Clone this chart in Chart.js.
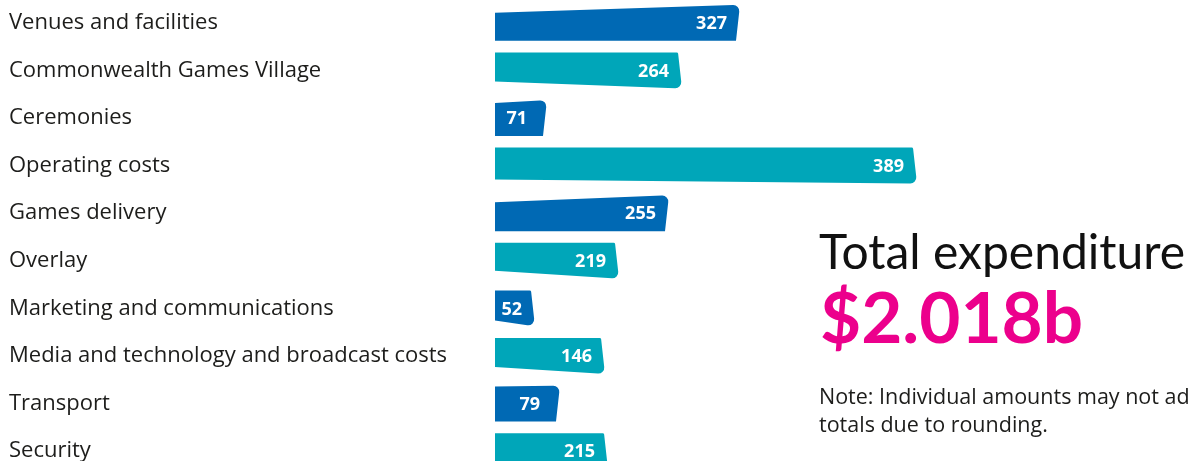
<!DOCTYPE html>
<html>
<head>
<meta charset="utf-8">
<script src="https://cdn.jsdelivr.net/npm/chart.js@4"></script>
<style>
  html, body { margin: 0; padding: 0; background: #fff; width: 1189px; height: 461px; overflow: hidden; }
  #wrap { position: relative; width: 1189px; height: 461px; overflow: hidden; }
  #chart { position: absolute; left: 0; top: -1px; }
  .side { position: absolute; left: 819px; white-space: nowrap; }
  #total-title { top: 227px; font-family: Lato, sans-serif; font-size: 48px; line-height: 48px; color: #111; }
  #total-value { top: 281px; left: 820px; font-family: Lato, sans-serif; font-size: 71px; line-height: 70px; font-weight: 700; color: #ec008c; }
  #total-note  { top: 382px; font-family: "Open Sans", sans-serif; font-size: 21.5px; line-height: 28px; color: #1d1d1b; }
</style>
</head>
<body>
<div id="wrap">
  <canvas id="chart" width="1189" height="476"></canvas>
  <div class="side" id="total-title">Total expenditure</div>
  <div class="side" id="total-value">$2.018b</div>
  <div class="side" id="total-note">Note: Individual amounts may not add up to<br>totals due to rounding.</div>
</div>

<script>
/* Expenditure by category ($m) — hand-drawn style bars */

const categories = [
  'Venues and facilities',
  'Commonwealth Games Village',
  'Ceremonies',
  'Operating costs',
  'Games delivery',
  'Overlay',
  'Marketing and communications',
  'Media and technology and broadcast costs',
  'Transport',
  'Security'
];

// printed amounts ($m)
const amounts = [327, 264, 71, 389, 255, 219, 52, 146, 79, 215];

// the original graphic is not drawn to scale: bar lengths as they appear
const barLengths = [245, 187, 52, 422, 174, 124, 40, 110, 65, 113];

const BLUE = '#0069b4';
const TEAL = '#00a6b9';
const barColors = categories.map((c, i) => i % 2 === 0 ? BLUE : TEAL);

// tip shape of each bar: 'up' = rounded top-right, 'down' = rounded bottom-right
const tipShapes = ['up', 'down', 'up', 'down', 'up', 'down', 'down', 'down', 'up', 'down'];
const tipSlants = [8, 7, 3, 4, 7, 8, 6, 7, 1, 6];

const slantedBars = {
  id: 'slantedBars',
  beforeDatasetDraw(chart, args) {
    const ctx  = chart.ctx;
    const meta = args.meta;
    ctx.save();
    meta.data.forEach((el, i) => {
      const { x, y, base, height } = el.getProps(['x', 'y', 'base', 'height'], true);
      const L = base, R = x;
      const T = y - height / 2, B = y + height / 2;
      const s = tipSlants[i];
      const k = 4;   // lean of the right edge
      const r = 6;   // tip radius

      ctx.beginPath();
      if (tipShapes[i] === 'up') {
        ctx.moveTo(L, B);
        ctx.lineTo(L, T + s);
        ctx.arcTo(R, T, R - k, B, r);
        ctx.lineTo(R - k, B);
      } else {
        ctx.moveTo(L, T);
        ctx.arcTo(R - k, T, R, B, 1.5);
        ctx.arcTo(R, B, L, B - s, r);
        ctx.lineTo(L, B - s);
      }
      ctx.closePath();
      ctx.fillStyle = barColors[i];
      ctx.fill();

      ctx.fillStyle    = '#ffffff';
      ctx.font         = 'bold 18px "Open Sans", sans-serif';
      ctx.textAlign    = 'right';
      ctx.textBaseline = 'middle';
      const pad = amounts[i] < 100 && barLengths[i] > 50 ? 20 : 13;
      ctx.fillText(String(amounts[i]), R - pad, y + 1);
    });
    ctx.restore();
    return false;
  }
};

new Chart(document.getElementById('chart'), {
  type: 'bar',
  data: {
    labels: categories,
    datasets: [{
      data:            barLengths,
      backgroundColor: barColors,
      barThickness:    36
    }]
  },
  options: {
    indexAxis:  'y',
    responsive: false,
    animation:  false,
    events:     [],
    layout: { padding: { left: 9, right: 0, top: 0, bottom: 0 } },
    plugins: {
      legend:  { display: false },
      tooltip: { enabled: false }
    },
    scales: {
      x: { display: false, min: 0, max: 694 },
      y: {
        grid:   { display: false },
        border: { display: false },
        ticks: {
          color:      '#1d1d1b',
          font:       { family: 'Open Sans', size: 22 },
          crossAlign: 'far',
          padding:    0
        },
        afterFit(scale) {
          scale.width = 486;
          scale.paddingTop = 0;
          scale.paddingBottom = 0;
        }
      }
    }
  },
  plugins: [slantedBars]
});
</script>
</body>
</html>
